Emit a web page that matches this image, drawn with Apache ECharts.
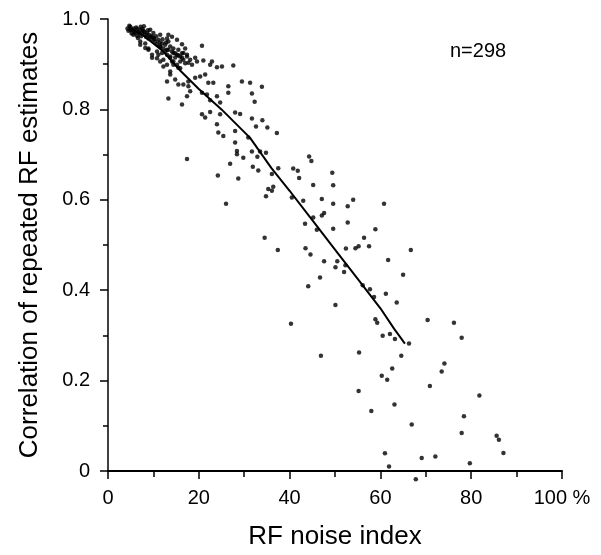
<!DOCTYPE html>
<html>
<head>
<meta charset="utf-8">
<script src="https://cdn.jsdelivr.net/npm/echarts@6/dist/echarts.min.js"></script>
<style>
html, body { margin: 0; padding: 0; background: #fff; }
#main { width: 601px; height: 555px; }
</style>
</head>
<body>
<div id="main"></div>
<script>
// ---- data
var xTicks = [0, 20, 40, 60, 80, 100];
var yTicks = [0, 0.2, 0.4, 0.6, 0.8, 1.0];

// dense cluster near the top-left
var clusterPts = [
    [4.3,0.979],[4.9,0.983],[4.5,0.974],[5.3,0.976],[5.6,0.979],[6.0,0.969],[6.4,0.978],[6.7,0.972],
    [7.1,0.976],[7.2,0.983],[7.5,0.969],[7.8,0.974],[8.2,0.965],[6.4,0.963],[5.6,0.965],[8.6,0.969],
    [8.9,0.957],[9.3,0.961],[9.7,0.954],[10.0,0.959],[10.4,0.950],[10.8,0.944],[11.1,0.954],[11.5,0.939],
    [11.9,0.946],[12.2,0.935],[12.6,0.943],[13.0,0.932],[13.3,0.950],[13.7,0.939],[14.1,0.928],[14.4,0.935],
    [14.8,0.924],[15.2,0.921],[15.5,0.932],[15.9,0.917],[16.3,0.924],[16.6,0.910],[17.0,0.902],[17.4,0.921],
    [17.0,0.935],[7.1,0.950],[8.2,0.946],[8.9,0.935],[9.7,0.921],[10.8,0.913],[12.2,0.910],[13.0,0.899],
    [13.7,0.917],[14.4,0.906],[15.2,0.899],[15.9,0.891],[9.3,0.976],[10.0,0.969],[11.5,0.965],[13.0,0.957],
    [13.3,0.965],[5.0,0.975],[5.8,0.972],[6.2,0.981],[6.9,0.968],[7.6,0.978],[8.0,0.971],[8.4,0.960],
    [9.0,0.965],[9.6,0.962],[10.2,0.956],[6.6,0.958],[7.3,0.962],[5.2,0.968],[4.7,0.985],[7.9,0.984],
    [8.8,0.975],[11.4,0.948],[12.0,0.955],[12.8,0.948],[10.6,0.962],[20.7,0.941],[16.3,0.944],[15.2,0.954],
    [14.1,0.961]
];

// upper band, x 9..31
var upperPts = [
    [9.7,0.914],[11.5,0.906],[12.2,0.895],[14.4,0.899],[15.5,0.892],[17.4,0.917],[18.5,0.899],[19.2,0.914],
    [21.0,0.908],[22.5,0.899],[22.9,0.906],[24.0,0.893],[25.1,0.895],[27.6,0.897],[13.7,0.884],[10.8,0.928],
    [11.1,0.921],[11.9,0.925],[12.6,0.928],[13.0,0.921],[13.3,0.932],[13.7,0.914],[14.1,0.906],[14.4,0.925],
    [14.8,0.915],[15.5,0.919],[15.9,0.906],[16.3,0.914],[16.6,0.925],[17.7,0.903],[18.1,0.910],[19.6,0.906],
    [8.2,0.936],[8.9,0.932],[7.1,0.943],[11.5,0.939],
    [13.7,0.877],[14.8,0.866],[13.0,0.862],[15.5,0.855],[16.6,0.855],[17.7,0.851],[18.1,0.840],[19.2,0.870],
    [20.3,0.873],[21.4,0.877],[22.1,0.859],[23.2,0.859],[26.5,0.851],[26.5,0.837],[20.7,0.837],[21.8,0.833],
    [22.5,0.820],[24.0,0.829],[24.7,0.815],[17.7,0.862],
    [13.3,0.824],[16.3,0.811],[17.4,0.829],[20.7,0.789],[21.4,0.782],[22.5,0.794],[24.7,0.789],[28.0,0.793],
    [29.1,0.790],[24.0,0.767],[24.3,0.749],[25.4,0.741],[28.0,0.752],[28.0,0.727],[28.4,0.708],[28.4,0.701],
    [29.8,0.693],[26.9,0.680],[17.4,0.690],[30.9,0.738],[29.5,0.862]
];

// middle band, x 24..60
var middlePts = [
    [31.3,0.859],[33.9,0.850],[31.7,0.835],[32.3,0.817],[31.7,0.780],[34.0,0.776],[32.6,0.762],[35.1,0.760],
    [37.2,0.748],[31.7,0.707],[33.5,0.707],[34.8,0.704],[32.9,0.695],[44.3,0.696],[44.8,0.686],[31.9,0.673],
    [37.5,0.670],[40.8,0.669],
    [24.2,0.654],[28.7,0.647],[26.0,0.591],
    [33.1,0.665],[36.1,0.657],[41.8,0.664],[49.4,0.660],[42.1,0.648],[45.2,0.633],[49.6,0.632],[36.4,0.629],
    [35.3,0.624],[36.1,0.620],[34.8,0.608],[40.5,0.605],[43.0,0.598],[47.1,0.602],[54.0,0.600],[49.6,0.591],
    [52.8,0.586],[47.6,0.571],[47.1,0.565],[45.2,0.561],[52.8,0.550],[43.4,0.547],[46.0,0.534],[49.6,0.536],
    [58.9,0.535],[34.5,0.516],[56.4,0.516],[55.2,0.497],[54.5,0.493],[57.5,0.497],[52.4,0.492],[37.4,0.489],
    [43.5,0.493],[44.6,0.479],[47.6,0.464],[50.5,0.464],[50.1,0.451],[52.3,0.455],[52.0,0.440],[46.7,0.428],
    [44.1,0.409],[56.1,0.411],[57.7,0.402],[58.6,0.385],[50.1,0.367],[40.3,0.326],[58.9,0.336],[59.3,0.328]
];

// lower right scatter, x 46..88
var lowerPts = [
    [60.8,0.591],[66.7,0.489],[61.7,0.467],[65.0,0.434],[61.2,0.392],[63.6,0.373],[70.4,0.334],[76.2,0.328],
    [60.5,0.299],[62.1,0.303],[63.2,0.292],[66.3,0.282],[77.9,0.295],[64.6,0.255],[62.6,0.227],[60.3,0.211],
    [61.5,0.202],[74.1,0.238],[73.5,0.220],[70.9,0.188],[81.8,0.167],[63.1,0.147],[78.4,0.121],[66.9,0.103],
    [77.9,0.084],[85.6,0.078],[86.1,0.069],[87.1,0.040],[61.0,0.039],[69.1,0.029],[72.1,0.032],[79.7,0.017],
    [61.9,0.010],[67.8,-0.018],
    [46.9,0.255],[55.3,0.262],[55.2,0.177],[58.0,0.133]
];

// running mean line
var trendX = [4.5, 8, 12, 16, 20, 25, 31.3, 36, 40, 45, 50, 55, 60, 63, 65.4];
var trendY = [0.982, 0.962, 0.930, 0.885, 0.845, 0.800, 0.737, 0.670, 0.620, 0.555, 0.490, 0.425, 0.360, 0.315, 0.282];

var allPts = clusterPts.concat(upperPts, middlePts, lowerPts);
var trendPts = trendX.map(function(x, i){ return [x, trendY[i]]; });

var FONT = '"Liberation Sans", Arial, Helvetica, sans-serif';

window.myChart = echarts.init(document.getElementById("main"));
var option = {
    animation: false,
    backgroundColor: '#fff',
    grid: { left: 108, right: 39, top: 19, bottom: 81, containLabel: false },
    xAxis: {
        type: 'value',
        min: 0, max: 100, interval: 20,
        name: 'RF noise index',
        nameLocation: 'middle',
        nameGap: 53,
        nameTextStyle: { fontFamily: FONT, fontSize: 26, color: '#000' },
        axisLine: { show: true, lineStyle: { color: '#000', width: 2 } },
        axisTick: { show: true, inside: false, length: 8, lineStyle: { color: '#000', width: 1.5 } },
        minorTick: { show: true, splitNumber: 2, length: 6, lineStyle: { color: '#000', width: 1.5 } },
        splitLine: { show: false },
        axisLabel: {
            fontFamily: FONT, fontSize: 20, color: '#000', margin: 17,
            formatter: function(v){ return v === 100 ? '100 %' : String(v); }
        }
    },
    yAxis: {
        type: 'value',
        min: 0, max: 1, interval: 0.2,
        name: 'Correlation of repeated RF estimates',
        nameLocation: 'middle',
        nameGap: 65,
        nameTextStyle: { fontFamily: FONT, fontSize: 26, color: '#000' },
        axisLine: { show: true, lineStyle: { color: '#000', width: 1.5 } },
        axisTick: { show: true, inside: false, length: 8, lineStyle: { color: '#000', width: 1.5 } },
        minorTick: { show: true, splitNumber: 2, length: 5, lineStyle: { color: '#000', width: 1.5 } },
        splitLine: { show: false },
        axisLabel: {
            fontFamily: FONT, fontSize: 20, color: '#000', margin: 18,
            formatter: function(v){ return v === 0 ? '0' : v.toFixed(1); }
        }
    },
    graphic: [{
        type: 'text', left: 450, top: 41,
        style: { text: 'n=298', fontFamily: FONT, fontSize: 20, fill: '#000' }
    }],
    series: [
        {
            type: 'scatter',
            data: allPts,
            symbol: 'circle',
            symbolSize: 4.5,
            clip: false,
            itemStyle: { color: '#000' }
        },
        {
            type: 'line',
            data: trendPts,
            showSymbol: false,
            symbol: 'none',
            lineStyle: { color: '#000', width: 2 }
        }
    ]
};
myChart.setOption(option);
</script>
</body>
</html>
